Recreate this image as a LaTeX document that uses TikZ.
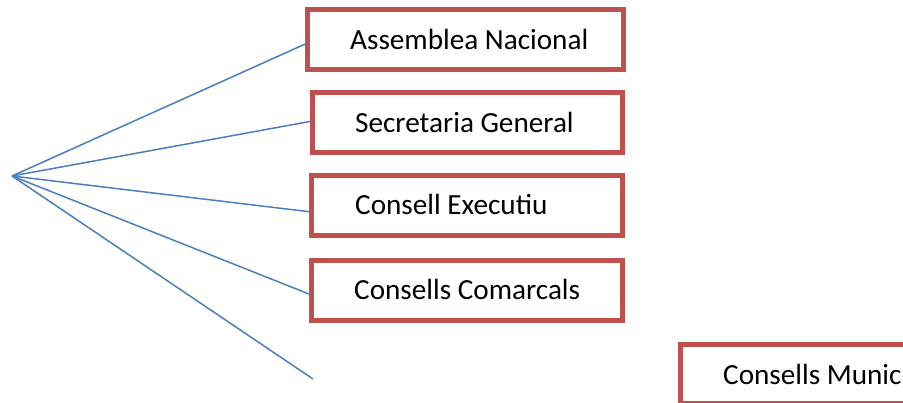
\documentclass[tikz,border=0pt]{standalone}
\usepackage{fontspec}
\setmainfont{Carlito}
\definecolor{boxred}{HTML}{C0504D}
\definecolor{lineblue}{HTML}{4A7EC0}
\begin{document}
\begin{tikzpicture}[x=1pt,y=-1pt,
  orgbox/.style={draw=boxred, line width=5pt, fill=white, rectangle, inner sep=0pt, outer sep=0pt},
  lbl/.style={anchor=base west, inner sep=0pt, font=\fontsize{29.2}{34}\selectfont, text=black},
  conn/.style={draw=lineblue, line width=1.5pt}]
\useasboundingbox (0,0) rectangle (903,403);
\clip (0,0) rectangle (903,403);
\coordinate (o) at (12,176);
\coordinate (e5) at (313,379);
\node[orgbox, minimum width=316pt, minimum height=60pt] (b1) at (465.5,39.5) {};
\node[orgbox, minimum width=310pt, minimum height=60pt] (b2) at (467.5,122.5) {};
\node[orgbox, minimum width=311pt, minimum height=60pt] (b3) at (467,205.5) {};
\node[orgbox, minimum width=311pt, minimum height=60pt] (b4) at (467,290.5) {};
\node[orgbox, minimum width=240pt, minimum height=59pt] (b5) at (800.5,374.5) {};
\node[lbl] (t1) at (350,50) {Assemblea Nacional};
\node[lbl] (t2) at (355,133) {Secretaria General};
\node[lbl] (t3) at (355,215) {Consell Executiu};
\node[lbl] (t4) at (354,300) {Consells Comarcals};
\node[lbl] (t5) at (723,385) {Consells Munic};
\draw[conn] (o) -- ([yshift=-3.5pt]b1.west);
\draw[conn] (o) -- ([yshift=1.5pt]b2.west);
\draw[conn] (o) -- ([yshift=-6.5pt]b3.west);
\draw[conn] (o) -- ([yshift=-4.5pt]b4.west);
\draw[conn] (o) -- (e5);
\end{tikzpicture}
\end{document}
